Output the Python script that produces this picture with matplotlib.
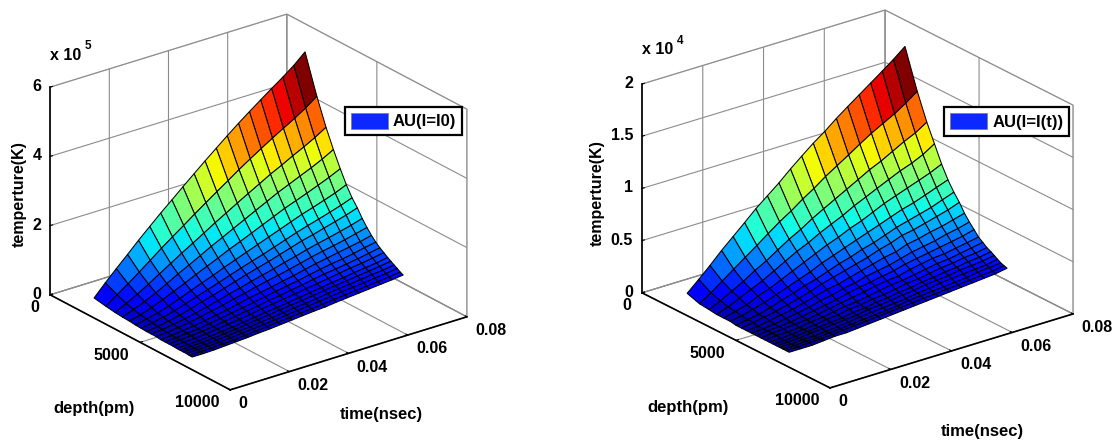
import numpy as np
import matplotlib
matplotlib.use("Agg")
import matplotlib.pyplot as plt
from matplotlib.patches import Patch

plt.rcParams['font.family'] = ['Liberation Sans', 'DejaVu Sans']
plt.rcParams['font.weight'] = 'bold'

time_left = [.0025,.0063,.0100,.0138,.0175,.0213,.0250,.0288,.0325,.0363,.0400,.0438,.0475,.0513,.0550,.0588,.0625,.0663,.0700,.0738]
depth_left = [2030,2684,3196,3605,3987,4324,4641,4935,5207,5469,5720,5959,6188,6406,6619,6799,6979,7153,7317,7480]
temp_left = [  # x 10^5 K
 [.40,.74,1.05,1.36,1.67,1.97,2.26,2.54,2.82,3.10,3.37,3.64,3.90,4.16,4.40,4.64,4.87,5.10,5.34,5.63],
 [.34,.57,.79,1.03,1.27,1.52,1.75,1.98,2.21,2.44,2.66,2.88,3.10,3.31,3.51,3.71,3.90,4.09,4.29,4.53],
 [.30,.46,.63,.82,1.02,1.22,1.42,1.61,1.80,2.00,2.18,2.37,2.55,2.73,2.91,3.07,3.24,3.40,3.57,3.77],
 [.28,.40,.53,.68,.85,1.03,1.19,1.36,1.53,1.69,1.85,2.01,2.17,2.33,2.49,2.63,2.77,2.91,3.06,3.24],
 [.27,.35,.46,.59,.73,.87,1.02,1.16,1.30,1.45,1.58,1.72,1.86,2.00,2.14,2.26,2.38,2.51,2.64,2.79],
 [.25,.32,.40,.50,.62,.75,.87,.99,1.12,1.24,1.36,1.48,1.60,1.72,1.84,1.96,2.06,2.17,2.28,2.42],
 [.24,.30,.36,.45,.55,.66,.76,.87,.98,1.09,1.19,1.29,1.40,1.51,1.62,1.72,1.81,1.91,2.01,2.13],
 [.23,.27,.33,.40,.49,.59,.68,.78,.88,.98,1.07,1.16,1.26,1.36,1.46,1.54,1.63,1.72,1.81,1.92],
 [.23,.26,.31,.37,.44,.52,.60,.69,.77,.86,.94,1.02,1.11,1.19,1.28,1.36,1.43,1.51,1.59,1.69],
 [.23,.25,.29,.34,.40,.47,.54,.62,.69,.77,.84,.91,.98,1.06,1.14,1.21,1.27,1.34,1.42,1.50],
 [.21,.23,.27,.31,.36,.42,.48,.55,.62,.68,.74,.81,.87,.95,1.02,1.08,1.14,1.20,1.26,1.34],
 [.21,.23,.26,.29,.34,.39,.45,.50,.56,.62,.68,.74,.79,.86,.92,.98,1.02,1.08,1.15,1.21],
 [.21,.23,.25,.28,.32,.37,.42,.47,.52,.58,.62,.68,.73,.79,.85,.89,.94,.99,1.05,1.11],
 [.21,.22,.24,.27,.31,.35,.39,.44,.49,.54,.58,.63,.68,.73,.78,.83,.88,.92,.97,1.03],
 [.20,.21,.23,.25,.29,.32,.36,.41,.45,.49,.53,.58,.62,.67,.72,.76,.81,.85,.89,.95],
 [.20,.21,.22,.25,.28,.31,.35,.39,.43,.47,.51,.55,.59,.64,.68,.72,.76,.80,.84,.89],
 [.20,.21,.22,.24,.27,.30,.33,.37,.40,.44,.48,.51,.55,.60,.64,.67,.71,.75,.78,.83],
 [.20,.21,.22,.23,.26,.29,.32,.35,.38,.42,.45,.49,.52,.56,.60,.63,.66,.70,.73,.78],
 [.19,.20,.21,.22,.24,.27,.30,.33,.36,.39,.42,.45,.48,.52,.55,.58,.61,.64,.68,.72],
 [.19,.19,.20,.22,.24,.26,.29,.31,.34,.37,.40,.43,.45,.49,.52,.55,.58,.61,.64,.68],
]
time_right = [.0044,.0082,.0119,.0157,.0195,.0233,.0270,.0308,.0346,.0384,.0421,.0459,.0497,.0535,.0572,.0610,.0648,.0686,.0723,.0761]
depth_right = [1690,2342,2852,3259,3639,3976,4291,4585,4856,5116,5366,5605,5833,6050,6262,6441,6620,6794,6957,7120]
temp_right = [  # x 10^4 K
 [.11,.21,.31,.42,.52,.62,.72,.81,.90,1.00,1.09,1.18,1.26,1.35,1.43,1.51,1.59,1.67,1.75,1.84],
 [.07,.14,.22,.30,.38,.46,.54,.62,.69,.77,.84,.92,.99,1.06,1.13,1.20,1.26,1.32,1.39,1.47],
 [.06,.11,.17,.23,.30,.36,.43,.50,.56,.63,.69,.75,.81,.87,.93,.98,1.04,1.10,1.15,1.22],
 [.05,.09,.14,.19,.24,.30,.36,.42,.47,.53,.58,.63,.69,.74,.79,.84,.89,.93,.98,1.05],
 [.05,.08,.11,.16,.20,.25,.30,.35,.40,.45,.49,.54,.58,.63,.68,.72,.76,.80,.84,.89],
 [.05,.07,.10,.13,.17,.21,.25,.29,.34,.38,.42,.46,.50,.54,.58,.62,.65,.69,.73,.77],
 [.04,.06,.08,.11,.15,.18,.22,.25,.29,.33,.36,.40,.43,.47,.51,.54,.57,.60,.64,.68],
 [.04,.06,.08,.10,.13,.16,.19,.23,.26,.29,.32,.35,.39,.42,.46,.48,.51,.54,.57,.61],
 [.04,.05,.07,.09,.11,.14,.17,.20,.22,.25,.28,.31,.34,.36,.40,.42,.45,.47,.50,.53],
 [.04,.05,.06,.08,.10,.12,.15,.17,.20,.22,.25,.27,.29,.32,.35,.37,.39,.42,.44,.47],
 [.04,.05,.06,.07,.09,.11,.13,.15,.18,.20,.22,.24,.26,.29,.31,.33,.35,.37,.39,.42],
 [.04,.05,.06,.07,.08,.10,.12,.14,.16,.18,.20,.22,.23,.26,.28,.30,.31,.33,.35,.37],
 [.04,.05,.05,.06,.08,.09,.11,.13,.14,.16,.18,.20,.21,.23,.25,.27,.28,.30,.32,.34],
 [.04,.04,.05,.06,.07,.09,.10,.12,.13,.15,.16,.18,.20,.21,.23,.25,.26,.28,.29,.31],
 [.04,.04,.05,.06,.07,.08,.09,.11,.12,.14,.15,.17,.18,.20,.21,.23,.24,.26,.27,.29],
 [.04,.04,.05,.06,.07,.08,.09,.10,.12,.13,.14,.16,.17,.19,.20,.21,.23,.24,.25,.27],
 [.04,.04,.05,.05,.06,.07,.08,.10,.11,.12,.13,.14,.16,.17,.19,.20,.21,.22,.23,.25],
 [.04,.04,.05,.05,.06,.07,.08,.09,.10,.11,.12,.14,.15,.16,.17,.18,.19,.21,.22,.23],
 [.04,.04,.05,.05,.06,.07,.08,.09,.10,.11,.12,.13,.14,.15,.16,.17,.18,.19,.20,.22],
 [.04,.04,.04,.05,.06,.06,.07,.08,.09,.10,.11,.12,.13,.14,.15,.16,.17,.18,.19,.21],
]
time_ticks = [0, .02, .04, .06, .08]
time_labels = ['0', '0.02', '0.04', '0.06', '0.08']
depth_ticks = [0, 5000, 10000]
depth_labels = ['0', '5000', '10000']
zticks_left = [0, 2, 4, 6]
zlabels_left = ['0', '2', '4', '6']
zticks_right = [0, .5, 1, 1.5, 2]
zlabels_right = ['0', '0.5', '1', '1.5', '2']

W, H = 1117, 444
fig = plt.figure(figsize=(W/100, H/100), dpi=100)
GRAY = '#8c8c8c'


def panel(rect, aspect, el, az, t, d, temp, zlim, zticks, zlabels):
    ax = fig.add_axes([rect[0]/W, rect[1]/H, rect[2]/W, rect[2]/H],
                      projection='3d', proj_type='ortho')
    ax.patch.set_alpha(0)
    ax.set_box_aspect(aspect)
    ax.view_init(elev=el, azim=az)
    ax.set_xlim(0, .08, view_margin=0)
    ax.set_ylim(10000, 0, view_margin=0)
    ax.set_zlim(0, zlim, view_margin=0)
    T, D = np.meshgrid(t, d)
    Z = np.array(temp, dtype=float)
    cols = plt.cm.jet(Z / Z.max())
    cols[:, :-1] = cols[:, 1:].copy()
    s = ax.plot_surface(T, D, Z, facecolors=cols, rstride=1, cstride=1,
                        shade=False, linewidth=0.75)
    s.set_edgecolor('black')
    ax.set_xticks(time_ticks, time_labels)
    ax.set_yticks(depth_ticks, depth_labels)
    ax.set_zticks(zticks, zlabels)
    for axis in (ax.xaxis, ax.yaxis, ax.zaxis):
        axis.pane.set_facecolor('white')
        axis.pane.set_edgecolor(GRAY)
        axis.pane.set_linewidth(0.9)
        axis._axinfo['grid'].update(color=GRAY, linewidth=0.8)
        axis._axinfo['tick'].update(inward_factor=0, outward_factor=0.12,
                                    color='black')
        axis.line.set_color('black')
        axis.line.set_linewidth(1.2)
    ax.xaxis.set_tick_params(labelsize=11.5, pad=0)
    ax.yaxis.set_tick_params(labelsize=11.5, pad=0)
    ax.zaxis.set_tick_params(labelsize=11.5, pad=-4.3)
    for axis in (ax.xaxis, ax.yaxis, ax.zaxis):
        for tl in axis.get_ticklabels():
            tl.set_fontweight('bold')
    for tk in ax.xaxis.get_major_ticks():
        tk.label1.set_ha('left')
        tk.label1.set_va('center')
    for tk in ax.yaxis.get_major_ticks():
        tk.label1.set_ha('right')
        tk.label1.set_va('center')
    for tk in ax.zaxis.get_major_ticks():
        tk.label1.set_ha('right')
        tk.label1.set_va('center')
    return ax


axL = panel((20.4, 3.9, 463.7), (298, 296.5, 227), 23.8, -127.4,
            time_left, depth_left, temp_left, 6, zticks_left, zlabels_left)
axR = panel((613.2, 0.7, 475.8), (307.6, 306.7, 227), 23.1, -127.8,
            time_right, depth_right, temp_right, 2, zticks_right, zlabels_right)


def txt(x, y, s, **kw):
    kw.setdefault('fontsize', 12)
    kw.setdefault('ha', 'center')
    kw.setdefault('va', 'center')
    fig.text(x/W, 1 - y/H, s, fontweight='bold', **kw)


txt(19, 194, 'temperture(K)', rotation=90, fontsize=11.5)
txt(597, 193, 'temperture(K)', rotation=90, fontsize=11.5)
txt(94, 408, 'depth(pm)')
txt(688, 407, 'depth(pm)')
txt(381, 414, 'time(nsec)')
txt(982, 431, 'time(nsec)')
txt(50, 56, 'x 10', ha='left', fontsize=11.5)
txt(85, 46, '5', ha='left', fontsize=8.5)
txt(642, 50, 'x 10', ha='left', fontsize=11.5)
txt(677, 41, '4', ha='left', fontsize=8.5)


def legend(x, y, w, h, label):
    handle = Patch(facecolor='#0a28ff', edgecolor='#808080', linewidth=0.6)
    lg = fig.legend(handles=[handle], labels=[label], loc='center',
                    bbox_to_anchor=((x + w/2)/W, 1 - (y + h/2)/H),
                    fontsize=12, frameon=True, fancybox=False,
                    edgecolor='black', framealpha=1, handlelength=2.25,
                    handleheight=1.1, borderpad=0.35, handletextpad=0.3,
                    borderaxespad=0)
    lg.get_frame().set_linewidth(1.6)
    lg.get_texts()[0].set_fontweight('bold')


legend(345, 107, 117, 28, 'AU(I=I0)')
legend(944, 108, 125, 27, 'AU(I=I(t))')

fig.savefig('out.png', dpi=100)
